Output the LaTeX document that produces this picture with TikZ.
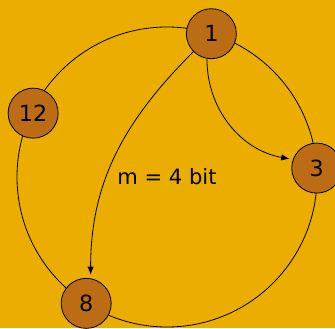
\documentclass[tikz,border=0pt]{standalone}
\usepackage{fontspec}
\setmainfont{DejaVu Sans}
\usepackage{xcolor}
\usepackage{tikz}
\usetikzlibrary{arrows.meta,calc}
\definecolor{ringGold}{HTML}{EBAE00}
\definecolor{peerBrown}{HTML}{BD6C16}
\tikzset{peer/.style={circle,draw,fill=peerBrown,minimum size=1.5cm,inner sep=0pt,font=\fontsize{19}{22}\selectfont}}

\begin{document}
\begin{tikzpicture}[line width=0.7pt,>={Latex[length=7pt,width=5.5pt]}]
\useasboundingbox (0,0) rectangle (10.05,9.84);
\fill[ringGold] (0,0) rectangle (10.05,9.84);
\coordinate (c) at (5.01,4.53);
% the identifier ring
\draw (c) circle (4.5);
% peers on the ring
\node[peer] (n1) at ($(c)+(72.8:4.5)$) {1};
\node[peer] (n3) at ($(c)+(3.4:4.5)$) {3};
\node[peer] (n8) at ($(c)+(237.4:4.5)$) {8};
\node[peer] (n12) at ($(c)+(154.5:4.45)$) {12};
\node[font=\fontsize{18}{21}\selectfont] (bits) at (c) {m = 4 bit};
% fingers of peer 1
\draw[->,shorten >=3pt] (n1) to[out=-135,in=90] (n8.80);
\draw[->,shorten >=3pt] (n1.-100) to[out=-90,in=170] (n3.160);
\end{tikzpicture}
\end{document}
